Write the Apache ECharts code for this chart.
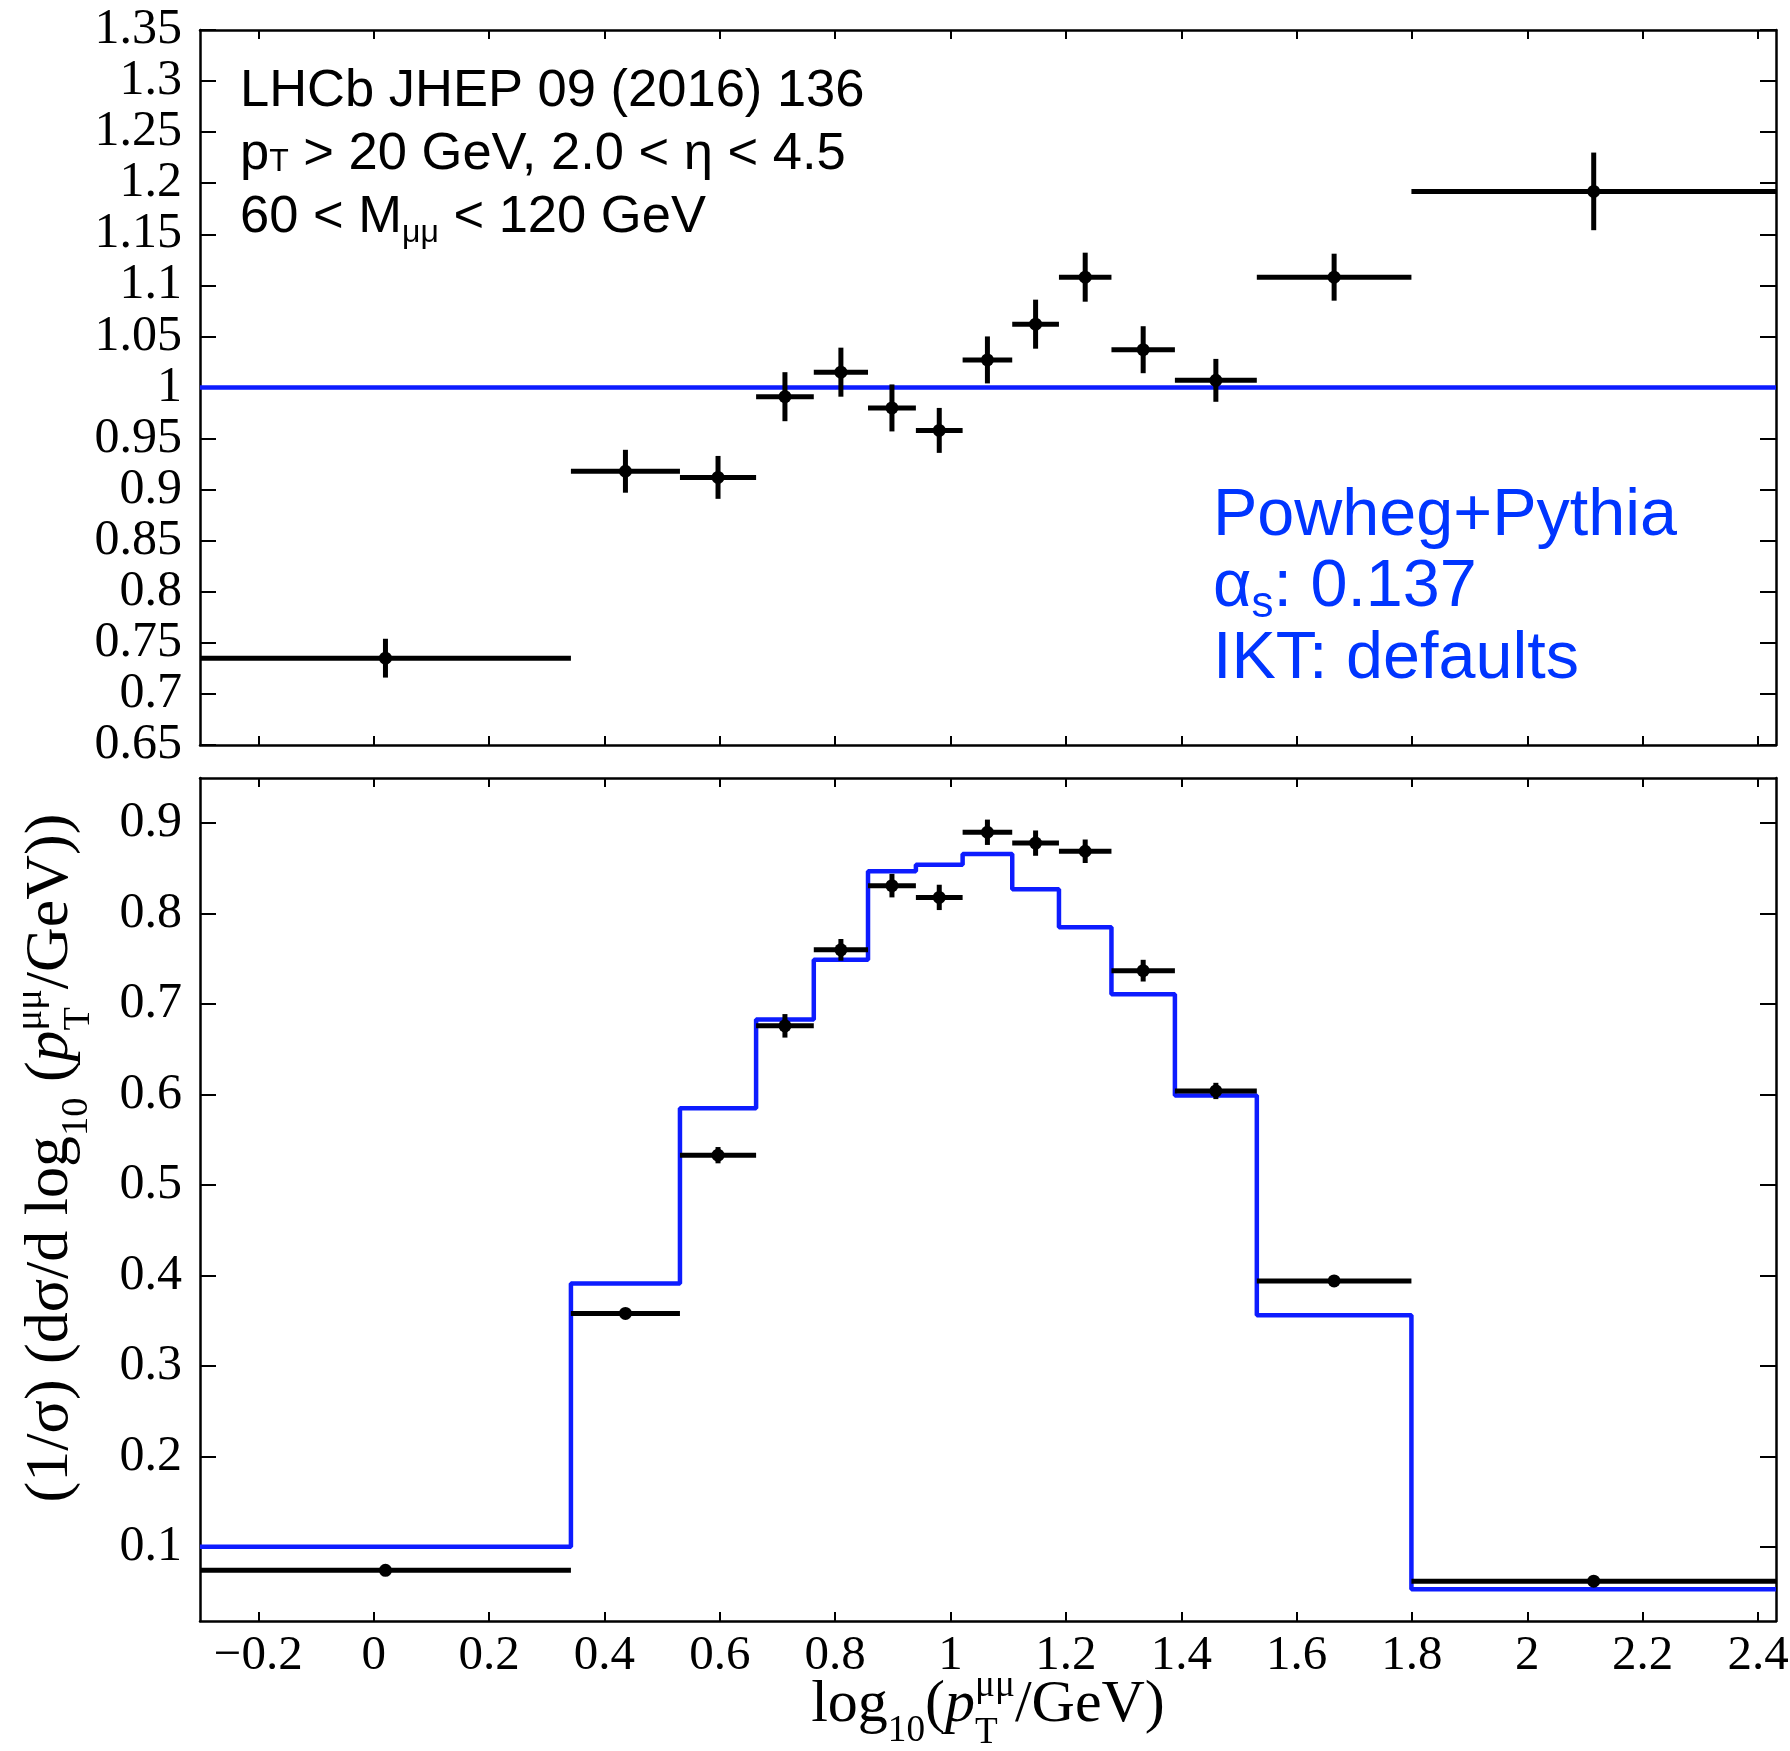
<!DOCTYPE html>
<html>
<head>
<meta charset="utf-8">
<script src="https://cdn.jsdelivr.net/npm/echarts@6/dist/echarts.min.js"></script>
<style>
  html, body { margin: 0; padding: 0; background: #fff; }
  #main { width: 1790px; height: 1751px; }
</style>
</head>
<body>
<div id="main"></div>
<script>
// bin edges, log10(pT/GeV)
const binEdges = [-0.301, 0.342, 0.531, 0.663, 0.763, 0.857, 0.940, 1.021, 1.107, 1.188, 1.279, 1.389, 1.531, 1.799, 2.431];
// top panel: data / MC
const ratioValues = [0.735, 0.918, 0.912, 0.991, 1.015, 0.980, 0.958, 1.027, 1.062, 1.108, 1.037, 1.007, 1.108, 1.192];
const ratioErrors = [0.019, 0.021, 0.021, 0.024, 0.024, 0.023, 0.022, 0.023, 0.024, 0.024, 0.023, 0.021, 0.023, 0.038];
const ratioRef = [1, 1];
// bottom panel: normalised distribution
const dataValues = [0.074, 0.358, 0.533, 0.676, 0.760, 0.831, 0.818, 0.890, 0.878, 0.869, 0.737, 0.604, 0.394, 0.062];
const dataErrors = [0.003, 0.005, 0.009, 0.013, 0.012, 0.013, 0.014, 0.014, 0.014, 0.013, 0.012, 0.009, 0.004, 0.003];
const mcValues = [0.100, 0.391, 0.585, 0.683, 0.749, 0.847, 0.854, 0.866, 0.827, 0.785, 0.711, 0.599, 0.356, 0.053];
// ticks
const xTicks = [-0.2, 0, 0.2, 0.4, 0.6, 0.8, 1, 1.2, 1.4, 1.6, 1.8, 2, 2.2, 2.4];
const ratioTicks = [0.65, 0.7, 0.75, 0.8, 0.85, 0.9, 0.95, 1, 1.05, 1.1, 1.15, 1.2, 1.25, 1.3, 1.35];
const distTicks = [0.1, 0.2, 0.3, 0.4, 0.5, 0.6, 0.7, 0.8, 0.9];

const SERIF = '"Liberation Serif", "DejaVu Serif", serif';
const SANS = '"Liberation Sans", Arial, sans-serif';
const BLUE_LINE = '#0d1cff';
const BLUE_TEXT = '#0035ff';

var myChart = echarts.init(document.getElementById('main'));

// ---- small helper to lay out text with sub/superscripts ----
const ctx = document.createElement('canvas').getContext('2d');
function textRow(pieces, family, color, anchor) {
  let cx = 0, pendingW = 0;
  const kids = [];
  pieces.forEach(p => {
    const font = (p.it ? 'italic ' : '') + p.s + 'px ' + family;
    ctx.font = font;
    const w = ctx.measureText(p.t).width;
    kids.push({
      type: 'text', x: cx, y: (p.dy || 0) - 0.34 * p.s,
      style: { text: p.t, font: font, fill: color, align: 'left', textAlign: 'left',
               verticalAlign: 'middle', textVerticalAlign: 'middle' }
    });
    if (p.stack) { pendingW = w; }
    else { cx += Math.max(w, pendingW); pendingW = 0; }
  });
  if (anchor === 'center') kids.forEach(k => { k.x -= cx / 2; });
  return kids;
}

function axisCommon(extra) {
  return Object.assign({
    type: 'value',
    splitLine: { show: false },
    axisLine: { show: true, onZero: false, lineStyle: { color: '#000', width: 2.5 } },
  }, extra);
}

function xAx(grid, pos, labels) {
  return axisCommon({
    gridIndex: grid, position: pos, min: binEdges[0], max: binEdges[binEdges.length - 1],
    axisTick: { show: true, inside: true, length: 9, customValues: xTicks, lineStyle: { color: '#000', width: 2 } },
    axisLabel: {
      show: labels, customValues: xTicks, margin: 11, color: '#000',
      fontFamily: SERIF, fontSize: 49,
      formatter: v => (v < 0 ? '\u2212' : '') + Math.abs(+v.toFixed(1))
    }
  });
}

function yAx(grid, pos, min, max, ticks, labels) {
  return axisCommon({
    gridIndex: grid, position: pos, min: min, max: max,
    axisTick: { show: true, inside: true, length: 16, customValues: ticks, lineStyle: { color: '#000', width: 2 } },
    axisLabel: {
      show: labels, customValues: ticks, margin: 18, color: '#000',
      fontFamily: SERIF, fontSize: 50,
      formatter: v => String(+v.toFixed(2))
    }
  });
}

function errorBars(xi, yi, vals, errs) {
  const data = vals.map((v, i) => [binEdges[i], binEdges[i + 1], (binEdges[i] + binEdges[i + 1]) / 2, v, errs[i]]);
  return {
    type: 'custom', xAxisIndex: xi, yAxisIndex: yi, z: 5, clip: true,
    data: data, encode: { x: [0, 1], y: 3 },
    renderItem: function (params, api) {
      const y = api.value(3), e = api.value(4);
      const lo = api.coord([api.value(0), y]);
      const hi = api.coord([api.value(1), y]);
      const c = api.coord([api.value(2), y]);
      const t = api.coord([api.value(2), y + e]);
      const b = api.coord([api.value(2), y - e]);
      return {
        type: 'group', children: [
          { type: 'line', shape: { x1: lo[0], y1: lo[1], x2: hi[0], y2: hi[1] }, style: { stroke: '#000', lineWidth: 5 } },
          { type: 'line', shape: { x1: c[0], y1: t[1], x2: c[0], y2: b[1] }, style: { stroke: '#000', lineWidth: 5 } },
          { type: 'circle', shape: { cx: c[0], cy: c[1], r: 6.5 }, style: { fill: '#000' } }
        ]
      };
    }
  };
}

const mcStep = binEdges.map((e, i) => [e, mcValues[Math.min(i, mcValues.length - 1)]]);
const refLine = ratioRef.map((v, i) => [i === 0 ? binEdges[0] : binEdges[binEdges.length - 1], v]);

const TS = 60;   // x title font size
const YS = 62;   // y title font size
const xTitle = [
  { t: 'log', s: TS }, { t: '10', s: TS * 0.62, dy: 18 }, { t: '(', s: TS },
  { t: 'p', s: TS, it: true },
  { t: '\u03bc\u03bc', s: TS * 0.62, dy: -27, stack: true }, { t: 'T', s: TS * 0.62, dy: 20 },
  { t: '/GeV)', s: TS }
];
const yTitle = [
  { t: '(1/\u03c3) (d\u03c3/d log', s: YS }, { t: '10', s: YS * 0.62, dy: 18 }, { t: ' (', s: YS },
  { t: 'p', s: YS, it: true },
  { t: '\u03bc\u03bc', s: YS * 0.62, dy: -28, stack: true }, { t: 'T', s: YS * 0.62, dy: 20 },
  { t: '/GeV))', s: YS }
];

const option = {
  animation: false,
  backgroundColor: '#fff',
  grid: [
    { left: 200, top: 30, width: 1576, height: 715, outerBoundsMode: 'none' },
    { left: 200, top: 778, width: 1576, height: 843, outerBoundsMode: 'none' }
  ],
  xAxis: [xAx(0, 'bottom', false), xAx(0, 'top', false), xAx(1, 'bottom', true), xAx(1, 'top', false)],
  yAxis: [
    yAx(0, 'left', 0.65, 1.35, ratioTicks, true), yAx(0, 'right', 0.65, 1.35, ratioTicks, false),
    yAx(1, 'left', 0.018, 0.95, distTicks, true), yAx(1, 'right', 0.018, 0.95, distTicks, false)
  ],
  series: [
    { type: 'line', xAxisIndex: 0, yAxisIndex: 0, data: refLine, symbol: 'none', z: 3,
      lineStyle: { color: BLUE_LINE, width: 4.5 } },
    errorBars(0, 0, ratioValues, ratioErrors),
    { type: 'line', xAxisIndex: 2, yAxisIndex: 2, data: mcStep, step: 'end', symbol: 'none', z: 3,
      lineStyle: { color: BLUE_LINE, width: 4.5 } },
    errorBars(2, 2, dataValues, dataErrors)
  ],
  graphic: [
    { type: 'group', x: 240, y: 109, children: textRow([{ t: 'LHCb JHEP 09 (2016) 136', s: 52.5 }], SANS, '#000') },
    { type: 'group', x: 240, y: 172, children: textRow([
      { t: 'p', s: 52.5 }, { t: 'T', s: 32, dy: 1 }, { t: ' > 20 GeV, 2.0 < \u03b7 < 4.5', s: 52.5 }], SANS, '#000') },
    { type: 'group', x: 240, y: 235, children: textRow([
      { t: '60 < M', s: 52.5 }, { t: '\u03bc\u03bc', s: 32, dy: 9 }, { t: ' < 120 GeV', s: 52.5 }], SANS, '#000') },
    { type: 'group', x: 1213, y: 539, children: textRow([{ t: 'Powheg+Pythia', s: 66.5 }], SANS, BLUE_TEXT) },
    { type: 'group', x: 1213, y: 610, children: textRow([
      { t: '\u03b1', s: 66.5 }, { t: 's', s: 44, dy: 10 }, { t: ': 0.137', s: 66.5 }], SANS, BLUE_TEXT) },
    { type: 'group', x: 1213, y: 682, children: textRow([{ t: 'IKT: defaults', s: 66.5 }], SANS, BLUE_TEXT) },
    { type: 'group', x: 988, y: 1726, children: textRow(xTitle, SERIF, '#000', 'center') },
    { type: 'group', x: 72, y: 1158, rotation: Math.PI / 2, children: textRow(yTitle, SERIF, '#000', 'center') }
  ]
};

myChart.setOption(option);
</script>
</body>
</html>
